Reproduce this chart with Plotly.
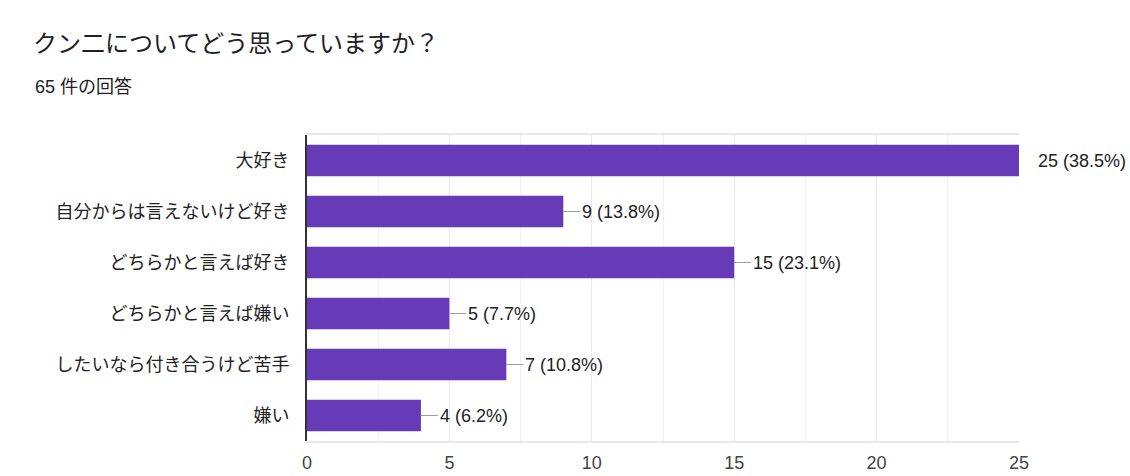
import plotly.graph_objects as go

categories = ["大好き", "自分からは言えないけど好き", "どちらかと言えば好き",
              "どちらかと言えば嫌い", "したいなら付き合うけど苦手", "嫌い"]
counts = [25, 9, 15, 5, 7, 4]
total = 65
title_text = "クン二についてどう思っていますか？"
subtitle_text = "65 件の回答"
x_ticks = [0, 5, 10, 15, 20, 25]

FONT = "Liberation Sans, Arial, Noto Sans CJK JP, sans-serif"
BAR = "#673ab7"

fig = go.Figure(go.Bar(
    x=counts, y=categories, orientation="h",
    marker=dict(color=BAR, line=dict(width=0)),
    width=0.62, hoverinfo="skip",
))

vmax = max(counts)
for c, v in zip(categories, counts):
    label = f"{v} ({v / total * 100:.1f}%)"
    if v == vmax:
        fig.add_annotation(x=v, y=c, text=label, showarrow=False,
                           xanchor="left", yanchor="middle", xshift=17,
                           font=dict(family=FONT, size=18, color="#222222"))
    else:
        fig.add_annotation(x=v, y=c, text=label, showarrow=True, arrowhead=0,
                           arrowwidth=1, arrowcolor="#9e9e9e", ax=17, ay=0,
                           xanchor="left", yanchor="middle",
                           font=dict(family=FONT, size=18, color="#222222"))

fig.add_annotation(xref="paper", yref="paper", x=(33 - 307) / 712, y=(441 - 87) / 306,
                   text=subtitle_text, showarrow=False, xanchor="left", yanchor="middle",
                   font=dict(family=FONT, size=18, color="#202124"))

fig.update_layout(
    width=1130, height=476,
    margin=dict(l=307, r=111, t=135, b=35, autoexpand=False),
    paper_bgcolor="white", plot_bgcolor="white",
    showlegend=False,
    title=dict(text=title_text, xref="container", yref="container",
               x=33 / 1130, y=1 - 44 / 476, xanchor="left", yanchor="middle",
               font=dict(family=FONT, size=24, color="#202124")),
    xaxis=dict(range=[0, 25], tickvals=x_ticks, ticks="", showgrid=True,
               gridcolor="#ebebeb", gridwidth=1,
               minor=dict(dtick=2.5, showgrid=True, gridcolor="#f2f2f2", gridwidth=1),
               showline=True, linecolor="#e8e8e8", linewidth=2, mirror=True,
               zeroline=False, ticklabelstandoff=4, automargin=False,
               tickfont=dict(family=FONT, size=18, color="#444444"),
               fixedrange=True),
    yaxis=dict(categoryorder="array", categoryarray=categories, autorange="reversed",
               ticks="", showgrid=False, showline=True, linecolor="#333333", linewidth=2,
               ticklabelstandoff=12, automargin=False,
               tickfont=dict(family=FONT, size=18, color="#222222"), fixedrange=True),
    bargap=0.38,
)

fig.write_html("out.html")
